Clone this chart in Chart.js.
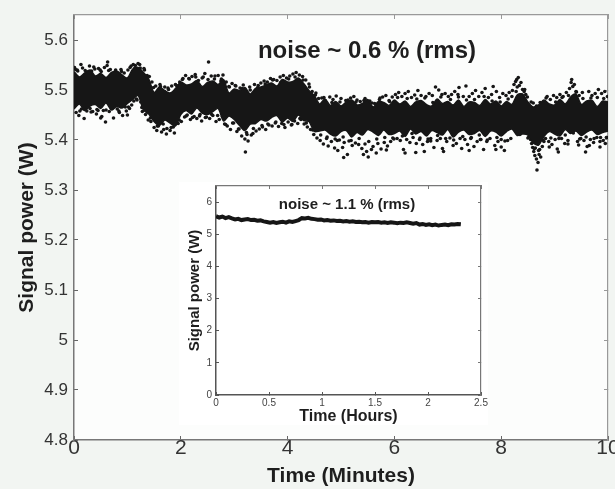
<!DOCTYPE html>
<html><head><meta charset="utf-8">
<script src="https://cdn.jsdelivr.net/npm/chart.js@4.4.1/dist/chart.umd.min.js"></script>
<style>
html,body{margin:0;padding:0;background:#f2f5f2;}
#wrap{position:relative;width:615px;height:489px;overflow:hidden;background:#f2f5f2;}
#main{position:absolute;left:0;top:0;}
#insetBox{position:absolute;left:179px;top:182px;width:309px;height:243px;background:#ffffff;}
#inset{position:absolute;left:0;top:0;}
.note{position:absolute;font-family:"Liberation Sans",Arial,sans-serif;font-weight:bold;color:#1e1e1e;white-space:nowrap;transform:translate(-50%,-50%);}
</style></head>
<body><div id="wrap">
<canvas id="main" width="615" height="489"></canvas>
<div class="note" style="left:367px;top:50px;font-size:24px">noise ~ 0.6 % (rms)</div>
<div id="insetBox"><canvas id="inset" width="309" height="243"></canvas></div>
<div class="note" style="left:347px;top:203px;font-size:15px">noise ~ 1.1 % (rms)</div>
</div>
<script>
// ---- main chart: dense core band (upper/lower edges) ----
const coreTime = [0,0.1,0.2,0.3,0.4,0.5,0.6,0.7,0.8,0.9,1,1.1,1.2,1.3,1.4,1.5,1.6,1.7,1.8,1.9,2,2.1,2.2,2.3,2.4,2.5,2.6,2.7,2.8,2.9,3,3.1,3.2,3.3,3.4,3.5,3.6,3.7,3.8,3.9,4,4.1,4.2,4.3,4.4,4.5,4.6,4.7,4.8,4.9,5,5.1,5.2,5.3,5.4,5.5,5.6,5.7,5.8,5.9,6,6.1,6.2,6.3,6.4,6.5,6.6,6.7,6.8,6.9,7,7.1,7.2,7.3,7.4,7.5,7.6,7.7,7.8,7.9,8,8.1,8.2,8.3,8.4,8.5,8.6,8.7,8.8,8.9,9,9.1,9.2,9.3,9.4,9.5,9.6,9.7,9.8,9.9,10];
const coreUpper = [
5.537,5.526,5.534,5.540,5.528,5.533,5.525,5.535,5.538,5.530,
5.524,5.542,5.545,5.535,5.522,5.495,5.506,5.499,5.494,5.503,
5.516,5.510,5.512,5.519,5.507,5.515,5.518,5.511,5.521,5.494,
5.502,5.499,5.505,5.492,5.503,5.506,5.510,5.514,5.508,5.521,
5.516,5.517,5.524,5.513,5.499,5.489,5.472,5.482,5.469,5.477,
5.468,5.476,5.480,5.470,5.473,5.481,5.466,5.477,5.475,5.469,
5.480,5.472,5.478,5.467,5.476,5.479,5.471,5.468,5.482,5.473,
5.477,5.470,5.480,5.467,5.476,5.475,5.469,5.481,5.472,5.478,
5.468,5.477,5.471,5.490,5.492,5.476,5.466,5.470,5.480,5.472,
5.470,5.481,5.472,5.486,5.492,5.471,5.478,5.479,5.467,5.478,5.476];
const coreLower = [
5.462,5.472,5.459,5.468,5.471,5.463,5.474,5.460,5.467,5.464,
5.473,5.481,5.489,5.460,5.452,5.437,5.429,5.440,5.434,5.428,
5.451,5.459,5.452,5.464,5.454,5.451,5.457,5.463,5.438,5.448,
5.441,5.429,5.419,5.432,5.433,5.441,5.438,5.445,5.449,5.436,
5.444,5.437,5.450,5.439,5.437,5.417,5.418,5.420,5.412,5.408,
5.417,5.419,5.406,5.415,5.410,5.421,5.416,5.409,5.420,5.411,
5.413,5.418,5.407,5.422,5.412,5.417,5.408,5.419,5.415,5.410,
5.421,5.406,5.416,5.420,5.411,5.413,5.419,5.407,5.418,5.416,
5.408,5.417,5.422,5.409,5.412,5.410,5.394,5.390,5.407,5.417,
5.412,5.408,5.421,5.413,5.418,5.409,5.416,5.420,5.411,5.415,5.418];

// ---- main chart: individual scattered samples around the band ----
const dotTime = [
0.01,0.04,0.06,0.09,0.13,0.14,0.19,0.21,0.24,0.29,
0.32,0.33,0.37,0.42,0.43,0.46,0.51,0.52,0.55,0.59,
0.62,0.63,0.66,0.68,0.72,0.74,0.77,0.81,0.82,0.85,
0.88,0.91,0.94,0.98,1.01,1.02,1.05,1.08,1.11,1.12,
1.15,1.17,1.20,1.24,1.25,1.28,1.31,1.34,1.37,1.39,
1.41,1.44,1.46,1.50,1.53,1.55,1.58,1.61,1.64,1.67,
1.70,1.73,1.74,1.77,1.80,1.83,1.86,1.88,1.92,1.95,
1.98,2.01,2.04,2.07,2.09,2.12,2.16,2.18,2.21,2.25,
2.27,2.30,2.33,2.36,2.39,2.42,2.45,2.48,2.52,2.54,
2.57,2.60,2.63,2.66,2.70,2.72,2.75,2.78,2.79,2.82,
2.85,2.87,2.90,2.93,2.96,2.99,3.02,3.05,3.08,3.11,
3.14,3.17,3.20,3.21,3.23,3.26,3.29,3.32,3.35,3.38,
3.41,3.44,3.47,3.50,3.53,3.56,3.59,3.62,3.65,3.68,
3.71,3.74,3.77,3.80,3.83,3.86,3.89,3.92,3.95,3.98,
4.01,4.04,4.07,4.10,4.13,4.16,4.19,4.22,4.25,4.28,
4.31,4.34,4.37,4.40,4.43,4.46,4.49,4.52,4.55,4.58,
4.61,4.64,4.67,4.70,4.73,4.76,4.79,4.82,4.85,4.88,
4.91,4.94,4.97,5.00,5.03,5.06,5.09,5.12,5.15,5.18,
5.21,5.24,5.27,5.30,5.33,5.36,5.39,5.42,5.45,5.48,
5.51,5.54,5.57,5.60,5.63,5.66,5.69,5.72,5.75,5.78,
5.81,5.84,5.87,5.90,5.93,5.96,5.99,5.05,5.45,5.85,
6.02,6.05,6.08,6.11,6.14,6.17,6.20,6.23,6.26,6.29,
6.32,6.35,6.38,6.41,6.44,6.47,6.50,6.53,6.56,6.59,
6.62,6.65,6.68,6.71,6.74,6.77,6.80,6.83,6.86,6.89,
6.92,6.95,6.98,7.01,7.04,7.07,7.10,7.13,7.16,7.19,
7.21,7.23,7.26,7.29,7.32,7.34,7.37,7.40,7.43,7.46,
7.49,7.52,7.55,7.58,7.61,7.64,7.67,7.70,7.73,7.76,
7.79,7.82,7.85,7.88,7.91,7.94,7.97,8.00,8.03,8.06,
8.09,8.12,8.15,8.18,6.40,6.90,7.40,7.90,8.00,6.20,
8.21,8.24,8.27,8.29,8.30,8.32,8.34,8.37,8.40,8.43,
8.46,8.49,8.52,8.55,8.57,8.59,8.61,8.63,8.64,8.66,
8.67,8.69,8.71,8.72,8.74,8.77,8.80,8.60,8.66,8.73,
8.83,8.86,8.89,8.92,8.95,8.98,9.01,9.04,9.07,9.10,
9.13,9.16,9.19,9.22,9.25,9.28,9.31,9.32,9.34,9.37,
9.40,9.43,9.46,9.49,9.52,9.55,9.58,9.61,9.64,9.67,
9.70,9.73,9.76,9.79,9.82,9.85,9.88,9.91,9.94,9.97,
9.99,9.05,9.45,9.85,8.90,9.25,9.65,9.95,0.50,1.00];
const dotPower = [
5.545,5.455,5.540,5.449,5.551,5.462,5.443,5.539,5.458,5.548,
5.456,5.538,5.546,5.452,5.461,5.543,5.537,5.447,5.459,5.436,
5.549,5.556,5.457,5.541,5.464,5.444,5.536,5.462,5.531,5.455,
5.541,5.449,5.534,5.458,5.540,5.466,5.545,5.470,5.551,5.478,
5.549,5.482,5.553,5.544,5.476,5.457,5.543,5.451,5.529,5.440,
5.527,5.437,5.516,5.425,5.508,5.419,5.428,5.511,5.416,5.432,
5.506,5.412,5.423,5.501,5.419,5.508,5.426,5.414,5.509,5.433,
5.516,5.437,5.523,5.446,5.529,5.450,5.522,5.441,5.527,5.447,
5.531,5.443,5.519,5.451,5.438,5.526,5.533,5.446,5.556,5.443,
5.528,5.449,5.522,5.437,5.529,5.441,5.518,5.447,5.530,5.432,
5.516,5.428,5.507,5.421,5.513,5.434,5.509,5.417,5.422,5.504,
5.408,5.510,5.402,5.376,5.415,5.398,5.506,5.410,5.413,5.511,
5.418,5.505,5.422,5.514,5.426,5.518,5.421,5.516,5.430,5.523,
5.428,5.521,5.434,5.519,5.427,5.526,5.433,5.529,5.425,5.524,
5.436,5.528,5.430,5.532,5.438,5.535,5.433,5.530,5.441,5.527,
5.432,5.520,5.426,5.512,5.421,5.497,5.411,5.490,5.404,5.483,
5.399,5.484,5.392,5.479,5.403,5.388,5.486,5.397,5.481,5.384,
5.488,5.379,5.400,5.483,5.385,5.395,5.479,5.371,5.398,5.484,
5.389,5.487,5.394,5.480,5.391,5.477,5.383,5.371,5.483,5.377,
5.366,5.478,5.381,5.387,5.473,5.374,5.393,5.481,5.382,5.486,
5.395,5.489,5.388,5.479,5.397,5.486,5.402,5.365,5.392,5.380,
5.491,5.403,5.495,5.399,5.487,5.381,5.493,5.401,5.497,5.395,
5.485,5.405,5.490,5.393,5.499,5.401,5.489,5.391,5.377,5.487,
5.397,5.493,5.403,5.489,5.385,5.506,5.399,5.500,5.403,5.491,
5.377,5.493,5.397,5.487,5.404,5.491,5.389,5.497,5.393,5.491,
5.505,5.403,5.383,5.487,5.401,5.508,5.391,5.487,5.403,5.493,
5.387,5.499,5.397,5.487,5.401,5.495,5.381,5.503,5.397,5.485,
5.403,5.491,5.507,5.389,5.497,5.397,5.485,5.401,5.493,5.379,
5.489,5.399,5.495,5.403,5.375,5.383,5.379,5.381,5.386,5.374,
5.499,5.511,5.517,5.521,5.506,5.525,5.509,5.515,5.501,5.497,
5.491,5.486,5.407,5.401,5.393,5.385,5.377,5.369,5.384,5.362,
5.340,5.355,5.371,5.381,5.366,5.387,5.397,5.474,5.468,5.475,
5.403,5.487,5.397,5.481,5.391,5.489,5.401,5.485,5.376,5.491,
5.403,5.487,5.393,5.495,5.399,5.503,5.515,5.521,5.507,5.511,
5.497,5.397,5.489,5.403,5.495,5.399,5.376,5.387,5.497,5.401,
5.489,5.395,5.493,5.405,5.501,5.397,5.493,5.399,5.497,5.405,
5.487,5.382,5.390,5.386,5.386,5.392,5.389,5.393,5.444,5.450];

// ---- main chart: samples lying just outside the dense core ----
const edgeTime = [
0.03,0.07,0.11,0.16,0.20,0.26,0.30,0.35,0.39,0.45,
0.49,0.57,0.60,0.65,0.71,0.78,0.84,0.89,0.96,1.04,
1.07,1.14,1.18,1.23,1.27,1.32,1.43,1.49,1.56,1.62,
1.68,1.76,1.82,1.90,1.97,2.03,2.10,2.15,2.22,2.28,
2.35,2.40,2.46,2.51,2.58,2.64,2.69,2.76,2.84,2.91,
2.97,3.03,3.09,3.15,3.24,3.30,3.36,3.45,3.52,3.58,
3.63,3.72,3.78,3.87,3.93,4.02,4.08,4.14,4.23,4.29,
4.35,4.41,4.47,4.53,4.62,4.68,4.74,4.83,4.89,4.98,
5.04,5.13,5.19,5.28,5.34,5.43,5.52,5.58,5.67,5.73,
5.82,5.91,5.97,6.06,6.15,6.24,6.33,6.42,6.48,6.57,
6.63,6.72,6.81,6.87,6.96,7.05,7.11,7.20,7.28,7.35,
7.44,7.50,7.59,7.68,7.74,7.83,7.92,7.98,8.07,8.13,
8.20,8.28,8.35,8.44,8.50,8.56,8.62,8.70,8.78,8.84,
8.93,9.02,9.08,9.14,9.20,9.26,9.35,9.41,9.47,9.53,
9.59,9.68,9.74,9.80,9.86,9.92,9.98,4.93,6.68,7.62];
const edgePower = [
5.541,5.538,5.458,5.544,5.461,5.536,5.463,5.457,5.542,5.459,
5.540,5.545,5.460,5.539,5.466,5.540,5.458,5.537,5.466,5.463,
5.548,5.544,5.480,5.551,5.465,5.540,5.444,5.505,5.428,5.507,
5.421,5.504,5.425,5.511,5.440,5.521,5.448,5.523,5.445,5.526,
5.448,5.524,5.445,5.521,5.451,5.528,5.449,5.522,5.431,5.506,
5.434,5.508,5.422,5.503,5.411,5.500,5.423,5.509,5.429,5.512,
5.432,5.520,5.436,5.515,5.431,5.522,5.431,5.526,5.443,5.520,
5.434,5.506,5.420,5.494,5.410,5.485,5.406,5.475,5.402,5.476,
5.406,5.480,5.399,5.476,5.403,5.479,5.397,5.474,5.402,5.484,
5.405,5.477,5.404,5.485,5.408,5.483,5.413,5.482,5.404,5.484,
5.402,5.475,5.409,5.486,5.403,5.481,5.400,5.486,5.407,5.480,
5.405,5.481,5.410,5.487,5.400,5.478,5.405,5.476,5.398,5.482,
5.487,5.497,5.411,5.501,5.404,5.476,5.383,5.379,5.400,5.484,
5.404,5.476,5.403,5.485,5.410,5.489,5.414,5.496,5.402,5.483,
5.406,5.484,5.403,5.485,5.405,5.483,5.405,5.399,5.398,5.401];

// ---- inset: long-term record (hours) ----
const insetTime = [0.00,0.03,0.06,0.09,0.12,0.15,0.18,0.21,0.24,0.27,0.30,0.33,0.36,0.39,0.42,0.45,0.48,0.51,0.54,0.57,0.60,0.63,0.66,0.69,0.72,0.75,0.78,0.81,0.84,0.87,0.90,0.93,0.96,0.99,1.02,1.05,1.08,1.11,1.14,1.17,1.20,1.23,1.26,1.29,1.32,1.35,1.38,1.41,1.44,1.47,1.50,1.53,1.56,1.59,1.62,1.65,1.68,1.71,1.74,1.77,1.80,1.83,1.86,1.89,1.92,1.95,1.98,2.01,2.04,2.07,2.10,2.13,2.16,2.19,2.22,2.25,2.28,2.31];
const insetPower = [5.56,5.52,5.55,5.50,5.53,5.49,5.46,5.48,5.44,5.46,5.47,5.44,5.45,5.42,5.43,5.40,5.38,5.36,5.38,5.35,5.37,5.39,5.36,5.40,5.38,5.41,5.44,5.50,5.49,5.51,5.48,5.47,5.45,5.46,5.43,5.44,5.42,5.43,5.41,5.42,5.40,5.41,5.39,5.40,5.38,5.39,5.37,5.38,5.36,5.38,5.37,5.38,5.36,5.37,5.35,5.37,5.36,5.34,5.36,5.35,5.37,5.35,5.33,5.35,5.30,5.32,5.29,5.31,5.28,5.30,5.27,5.29,5.30,5.28,5.31,5.30,5.32,5.31];

// axis ranges / ticks
const mainX = {min:0, max:10, step:2};
const mainY = {min:4.8, max:5.65, step:0.1};
const insX = {min:0, max:2.5, step:0.5};
const insY = {min:0, max:6.5, step:1};

const fam = '"Liberation Sans", Arial, Helvetica, sans-serif';
const ink = '#161616';
const pts = (xs, ys) => xs.map((x, i) => ({x: x, y: ys[i]}));
const fmt = v => String(+Number(v).toFixed(1));

const plotBg = {
  id: 'plotBg',
  beforeDraw(c, args, opts) {
    const a = c.chartArea, ctx = c.ctx;
    ctx.save(); ctx.fillStyle = opts.color;
    ctx.fillRect(a.left, a.top, a.right - a.left, a.bottom - a.top);
    ctx.restore();
  }
};

function mirror(pos, r, col, tl, zeroFn) {
  return {
    type: 'linear', position: pos, min: r.min, max: r.max,
    ticks: {display: false, stepSize: r.step, includeBounds: false},
    grid: {drawOnChartArea: false, tickLength: tl, color: col, lineWidth: 1},
    border: {color: col, width: 1.2},
    afterFit: zeroFn
  };
}

new Chart(document.getElementById('main'), {
  type: 'scatter',
  data: {
    datasets: [
      {data: pts(coreTime, coreUpper), showLine: true, borderColor: ink, borderWidth: 1.5, pointRadius: 0, fill: '+1', backgroundColor: ink, tension: 0.3},
      {data: pts(coreTime, coreLower), showLine: true, borderColor: ink, borderWidth: 1.5, pointRadius: 0, fill: false, tension: 0.3},
      {data: pts(dotTime, dotPower), pointRadius: 1.8, pointBackgroundColor: ink, pointBorderWidth: 0, backgroundColor: ink},
      {data: pts(edgeTime, edgePower), pointRadius: 1.8, pointBackgroundColor: ink, pointBorderWidth: 0, backgroundColor: ink}
    ]
  },
  options: {
    responsive: false, animation: false,
    layout: {padding: {top: 15, right: 7, left: 0, bottom: 0}},
    plugins: {legend: {display: false}, tooltip: {enabled: false}, plotBg: {color: '#fcfdfc'}},
    scales: {
      x: {
        type: 'linear', position: 'bottom', min: mainX.min, max: mainX.max,
        ticks: {stepSize: mainX.step, autoSkip: false, maxRotation: 0, padding: 0, color: '#333', font: {family: fam, size: 21}},
        grid: {drawOnChartArea: false, tickLength: -4, color: '#666'},
        border: {color: '#777', width: 1.5},
        title: {display: true, text: 'Time (Minutes)', color: '#1e1e1e', font: {family: fam, size: 21, weight: 'bold'}, padding: {top: 1, bottom: 0}},
        afterFit(s) { s.height = 49; s.paddingLeft = 0; s.paddingRight = 0; }
      },
      y: {
        type: 'linear', position: 'left', min: mainY.min, max: mainY.max,
        ticks: {stepSize: mainY.step, includeBounds: false, padding: 10, color: '#333', font: {family: fam, size: 17}, callback: fmt},
        grid: {drawOnChartArea: false, tickLength: -4, color: '#666'},
        border: {color: '#777', width: 1.5},
        title: {display: true, text: 'Signal power (W)', color: '#1e1e1e', font: {family: fam, size: 21, weight: 'bold'}, padding: {top: 15, bottom: 0}},
        afterFit(s) { s.width = 74; s.paddingTop = 0; s.paddingBottom = 0; }
      },
      x2: mirror('top', mainX, '#999', -4, s => { s.height = 0; s.paddingLeft = 0; s.paddingRight = 0; }),
      y2: mirror('right', mainY, '#999', -4, s => { s.width = 0; s.paddingTop = 0; s.paddingBottom = 0; })
    }
  },
  plugins: [plotBg]
});

new Chart(document.getElementById('inset'), {
  type: 'scatter',
  data: {
    datasets: [
      {data: pts(insetTime, insetPower), showLine: true, borderColor: ink, borderWidth: 4, pointRadius: 0, fill: false, tension: 0}
    ]
  },
  options: {
    responsive: false, animation: false,
    layout: {padding: {top: 4, right: 7, left: 0, bottom: 0}},
    plugins: {legend: {display: false}, tooltip: {enabled: false}, plotBg: {color: '#ffffff'}},
    scales: {
      x: {
        type: 'linear', position: 'bottom', min: insX.min, max: insX.max,
        ticks: {stepSize: insX.step, autoSkip: false, maxRotation: 0, padding: 5, color: '#444', font: {family: fam, size: 10}, callback: fmt},
        grid: {drawOnChartArea: false, tickLength: -3, color: '#555'},
        border: {color: '#555', width: 1.5},
        title: {display: true, text: 'Time (Hours)', color: '#1e1e1e', font: {family: fam, size: 16, weight: 'bold', lineHeight: 1}, padding: {top: 0, bottom: 0}},
        afterFit(s) { s.height = 30; s.paddingLeft = 0; s.paddingRight = 0; }
      },
      y: {
        type: 'linear', position: 'left', min: insY.min, max: insY.max,
        ticks: {stepSize: insY.step, includeBounds: false, padding: 7, color: '#444', font: {family: fam, size: 10}, callback: fmt},
        grid: {drawOnChartArea: false, tickLength: -3, color: '#555'},
        border: {color: '#555', width: 1.5},
        title: {display: true, text: 'Signal power (W)', color: '#1e1e1e', font: {family: fam, size: 15, weight: 'bold'}, padding: {top: 7, bottom: 0}},
        afterFit(s) { s.width = 37; s.paddingTop = 0; s.paddingBottom = 0; }
      },
      x2: mirror('top', insX, '#777', -3, s => { s.height = 0; s.paddingLeft = 0; s.paddingRight = 0; }),
      y2: mirror('right', insY, '#777', -3, s => { s.width = 0; s.paddingTop = 0; s.paddingBottom = 0; })
    }
  },
  plugins: [plotBg]
});
</script>
</body></html>
